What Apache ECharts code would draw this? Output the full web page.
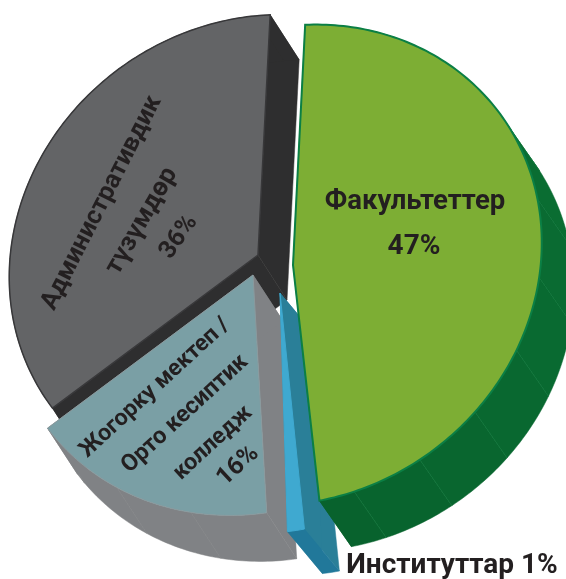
<!DOCTYPE html>
<html>
<head>
<meta charset="utf-8">
<style>
  html, body { margin: 0; padding: 0; background: #fff; }
  #chart { width: 566px; height: 579px; }
</style>
<script src="https://cdn.jsdelivr.net/npm/echarts@6/dist/echarts.min.js"></script>
</head>
<body>
<div id="chart"></div>
<script>
// drawn back to front, going counter-clockwise round the pie
var sliceNames = ['Административдик түзүмдөр', 'Жогорку мектеп / Орто кесиптик колледж', 'Институттар', 'Факультеттер'];
var sliceValues = [36, 16, 1, 47];

// slice styling and offsets (exploded pie, extruded down to the right)
var apexes = [[258, 255], [253, 275], [280, 293], [293, 265]];
var depths = [[29, 45], [30, 46], [35, 42], [32, 46]];
var angleTweaks = [[0, 0], [1, 0], [2, 2.5], [0, 1.5]]; // the perspective skews the slices a little
var faceColors = ['#636466', '#7a9fa5', '#3fa9d0', '#7dae34'];
var borderColors = ['#38383a', '#8a9a9e', '#3fa9d0', '#0b7f45'];
var borderWidths = [1.5, 1, 1, 2];
var wallColors = ['#2e2e2f', '#808285', '#2a7f98', '#08612d'];
var rimColorsFrom = ['#2e2e2f', '#808285', '#21789a', '#0b7335'];
var rimColorsTo = ['#2e2e2f', '#808285', '#21789a', '#08612d'];
var seamColors = ['#2e2e2f', '#808285', '#21789a', '#0e7a3c'];

var labels = [
  { text: 'Административдик', x: 102, y: 203, rot: 63, size: 25.5 },
  { text: 'түзүмдөр', x: 142, y: 221, rot: 60, size: 26 },
  { text: '36%', x: 179, y: 237, rot: 55, size: 25 },
  { text: 'Жогорку мектеп /', x: 155, y: 388, rot: 42.7, size: 23 },
  { text: 'Орто кесиптик', x: 185, y: 414, rot: 42.7, size: 23.5 },
  { text: 'колледж', x: 213, y: 443, rot: 42.7, size: 23 },
  { text: '16%', x: 238, y: 466, rot: 42.7, size: 25 },
  { text: 'Факультеттер', x: 415, y: 202, rot: 0, size: 27.5 },
  { text: '47%', x: 414, y: 247, rot: 0, size: 28 },
  { text: 'Институттар 1%', x: 452, y: 566, rot: 0, size: 28 }
];

var lastAngle = 362.9; // clockwise from top, where the first slice ends
var major = 256, minor = 232; // the face circle is a slanted ellipse
var majorDir = [0.82, -0.57], minorDir = [0.57, 0.82];

var total = 0;
sliceValues.forEach(function (v) { total += v; });

function rimPoint(apex, deg) {
  var t = deg * Math.PI / 180;
  var dx = Math.sin(t), dy = -Math.cos(t);
  var u = dx * majorDir[0] + dy * majorDir[1];
  var v = dx * minorDir[0] + dy * minorDir[1];
  var r = 1 / Math.sqrt((u / major) * (u / major) + (v / minor) * (v / minor));
  return [apex[0] + dx * r, apex[1] + dy * r];
}

function shift(p, d) {
  return [p[0] + d[0], p[1] + d[1]];
}

function renderSlice(params, api) {
  var i = params.dataIndex;
  var before = 0;
  for (var k = 0; k < i; k++) before += sliceValues[k];
  var end = lastAngle - before / total * 360;
  var start = end - api.value(0) / total * 360;
  start += angleTweaks[i][0];
  end += angleTweaks[i][1];
  var apex = apexes[i], d = depths[i];
  var children = [];

  var a = rimPoint(apex, start), b = rimPoint(apex, end);

  // radial walls
  [a, b].forEach(function (p) {
    children.push({
      type: 'polygon',
      shape: { points: [apex, p, shift(p, d), shift(apex, d)] },
      style: { fill: wallColors[i], stroke: wallColors[i], lineWidth: 0.5 }
    });
  });

  // outer wall, one band per facet
  var facet = 18;
  for (var s = start; s < end; s += facet) {
    var s1 = Math.min(s + facet, end);
    var near = [], far = [];
    for (var c = s; c < s1; c += 1) {
      near.push(rimPoint(apex, c));
      far.unshift(shift(rimPoint(apex, c), d));
    }
    near.push(rimPoint(apex, s1));
    far.unshift(shift(rimPoint(apex, s1), d));
    var fill = echarts.color.lerp((s - start) / (end - start), [rimColorsFrom[i], rimColorsTo[i]]);
    children.push({
      type: 'polygon',
      shape: { points: near.concat(far) },
      style: { fill: fill, stroke: fill, lineWidth: 0.5 }
    });
    if (s1 < end) {
      var sp = rimPoint(apex, s1);
      children.push({
        type: 'line',
        z2: 1,
        shape: { x1: sp[0], y1: sp[1], x2: sp[0] + d[0], y2: sp[1] + d[1] },
        style: { stroke: seamColors[i], lineWidth: 0.5 }
      });
    }
  }

  // top face
  var face = [apex];
  for (var t = start; t < end; t += 1) face.push(rimPoint(apex, t));
  face.push(b);
  children.push({
    type: 'polygon',
    z2: 2,
    shape: { points: face },
    style: { fill: faceColors[i], stroke: borderColors[i], lineWidth: borderWidths[i], lineJoin: 'miter' }
  });

  return { type: 'group', children: children };
}

var chart = echarts.init(document.getElementById('chart'));

var seriesData = sliceNames.map(function (name, i) {
  return { name: name, value: sliceValues[i] };
});

chart.setOption({
  animation: false,
  backgroundColor: '#fff',
  tooltip: { show: false },
  graphic: labels.map(function (l) {
    return {
      type: 'text',
      z: 10,
      x: l.x,
      y: l.y,
      rotation: l.rot * Math.PI / 180,
      style: {
        text: l.text,
        fill: '#231f20',
        font: 'bold ' + l.size + 'px Roboto',
        textAlign: 'center',
        textVerticalAlign: 'middle'
      }
    };
  }),
  series: [
    {
      type: 'custom',
      coordinateSystem: 'none',
      silent: true,
      data: seriesData,
      renderItem: renderSlice
    }
  ]
});
</script>
</body>
</html>
